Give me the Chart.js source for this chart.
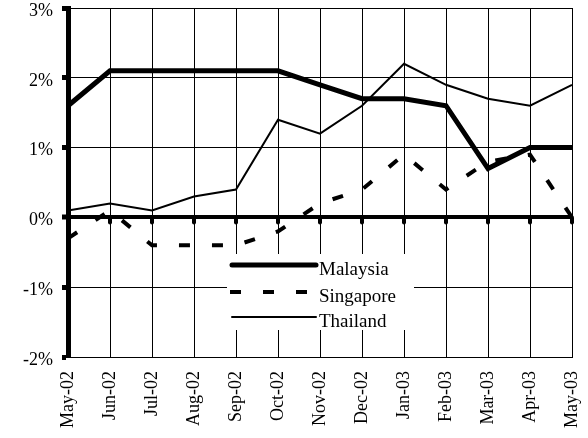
<!DOCTYPE html>
<html>
<head>
<meta charset="utf-8">
<script src="https://cdn.jsdelivr.net/npm/chart.js@4/dist/chart.umd.min.js"></script>
<style>
  html, body { margin: 0; padding: 0; background: #fff; }
  #wrap { width: 588px; height: 438px; }
</style>
</head>
<body>
<div id="wrap"><canvas id="myChart" width="588" height="438"></canvas></div>
<script>
const months = ["May-02", "Jun-02", "Jul-02", "Aug-02", "Sep-02", "Oct-02", "Nov-02",
  "Dec-02", "Jan-03", "Feb-03", "Mar-03", "Apr-03", "May-03"];

const malaysia = [1.6, 2.1, 2.1, 2.1, 2.1, 2.1, 1.9, 1.7, 1.7, 1.6, 0.7, 1.0, 1.0];
const singapore = [-0.3, 0.1, -0.4, -0.4, -0.4, -0.2, 0.2, 0.4, 0.9, 0.4, 0.8, 0.9, 0.0];
const thailand = [0.1, 0.2, 0.1, 0.3, 0.4, 1.4, 1.2, 1.6, 2.2, 1.9, 1.7, 1.6, 1.9];

const yMin = -2;
const yMax = 3;

const serif = "'Liberation Serif', 'Times New Roman', serif";

// tick dots under the zero line + legend box inside the plot
const extras = {
  id: "extras",
  afterDatasetsDraw(chart) {
    const ctx = chart.ctx;
    const x = chart.scales.x;
    const y0 = chart.scales.y.getPixelForValue(0);
    ctx.save();
    ctx.strokeStyle = "#000";
    ctx.lineWidth = 4;
    ctx.lineCap = "round";
    for (let i = 0; i < months.length; i++) {
      const px = x.getPixelForValue(i);
      ctx.beginPath();
      ctx.moveTo(px, y0);
      ctx.lineTo(px, y0 + 5);
      ctx.stroke();
    }

    // legend
    ctx.fillStyle = "#fff";
    ctx.fillRect(227, 254, 187, 76);
    const items = [
      { label: "Malaysia", width: 5, dash: [], y: 265 },
      { label: "Singapore", width: 4, dash: [11, 22], y: 292 },
      { label: "Thailand", width: 2, dash: [], y: 317 },
    ];
    ctx.font = "19px " + serif;
    ctx.textBaseline = "middle";
    ctx.textAlign = "left";
    for (const it of items) {
      ctx.lineCap = it.dash.length ? "butt" : "round";
      ctx.lineWidth = it.width;
      ctx.setLineDash(it.dash);
      ctx.beginPath();
      ctx.moveTo(it.dash.length ? 230 : 232, it.y);
      ctx.lineTo(316, it.y);
      ctx.stroke();
      ctx.setLineDash([]);
      ctx.fillStyle = "#000";
      ctx.fillText(it.label, 319, it.y + 5);
    }
    ctx.restore();
  },
};

let chart = new Chart("myChart", {
  type: "line",
  data: {
    labels: months,
    datasets: [
      {
        label: "Malaysia",
        data: malaysia,
        borderColor: "#000",
        borderWidth: 5,
        pointRadius: 0,
        tension: 0,
        fill: false,
      },
      {
        label: "Singapore",
        data: singapore,
        borderColor: "#000",
        borderWidth: 4,
        borderDash: [11, 22],
        pointRadius: 0,
        tension: 0,
        fill: false,
      },
      {
        label: "Thailand",
        data: thailand,
        borderColor: "#000",
        borderWidth: 2,
        pointRadius: 0,
        tension: 0,
        fill: false,
      },
    ],
  },
  options: {
    responsive: false,
    animation: false,
    layout: { padding: { top: 8, right: 16, left: 0, bottom: 0 } },
    plugins: {
      legend: { display: false },
      tooltip: { enabled: false },
    },
    scales: {
      x: {
        offset: false,
        afterFit(scale) {
          scale.height = 81;
          scale.paddingLeft = 0;
          scale.paddingRight = 0;
        },
        grid: {
          color: "#000",
          lineWidth: 1,
          drawTicks: false,
        },
        border: { color: "#000", width: 1 },
        ticks: {
          color: "#000",
          font: { family: serif, size: 18 },
          minRotation: 90,
          maxRotation: 90,
          padding: 14,
          autoSkip: false,
        },
      },
      y: {
        min: yMin,
        max: yMax,
        afterFit(scale) {
          scale.width = 68;
          scale.paddingTop = 0;
          scale.paddingBottom = 0;
        },
        grid: {
          color: "#000",
          lineWidth: (c) => (c.tick && c.tick.value === 0 ? 4 : 1),
          tickLength: 6,
          tickWidth: 5,
          tickColor: "#000",
        },
        border: { color: "#000", width: 5 },
        ticks: {
          stepSize: 1,
          color: "#000",
          font: { family: serif, size: 18 },
          padding: 9,
          labelOffset: 3,
          callback: (v) => v + "%",
        },
      },
    },
  },
  plugins: [extras],
});
</script>
</body>
</html>
